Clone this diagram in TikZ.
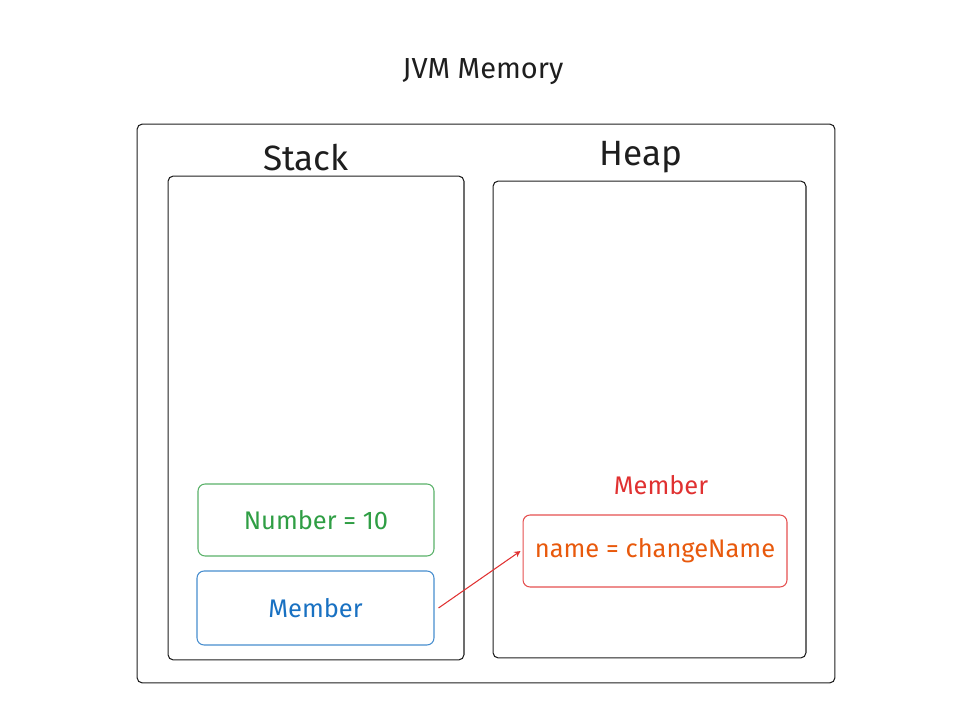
\documentclass[tikz,border=0pt]{standalone}
\usepackage{fontspec}
\setmainfont{Fira Sans}
\usepackage{tikz}

\definecolor{exgreen}{HTML}{2F9E44}
\definecolor{exblue}{HTML}{1971C2}
\definecolor{exred}{HTML}{E03131}
\definecolor{exorange}{HTML}{E8590C}
\definecolor{exdark}{HTML}{1E1E1E}

\begin{document}
\begin{tikzpicture}[
    x=0.02cm, y=-0.02cm,
    frame/.style={
        rectangle,
        draw=exdark,
        line width=0.6pt,
        rounded corners=3pt,
        inner sep=0pt
    },
    cell/.style={
        rectangle,
        line width=0.6pt,
        rounded corners=4pt,
        text centered,
        font=\fontsize{14.5}{17}\selectfont,
        inner sep=0pt
    },
    heading/.style={
        font=\fontsize{20}{24}\selectfont,
        text=exdark
    },
    arrow/.style={
        ->,
        line width=0.6pt,
        >=stealth,
        color=exred
    }
]
\useasboundingbox (0,0) rectangle (978,710);

% Title
\node[font=\fontsize{16.5}{20}\selectfont, text=exdark] (title) at (483,72) {JVM Memory};

% JVM frame
\node[frame, minimum width=13.96cm, minimum height=11.18cm] (jvm) at (486,403.5) {};

% Stack
\node[heading] (stackTitle) at (306,158) {Stack};
\node[frame, minimum width=5.92cm, minimum height=9.68cm] (stack) at (316,418) {};

% Heap
\node[heading] (heapTitle) at (641,157) {Heap};
\node[frame, minimum width=6.26cm, minimum height=9.54cm] (heap) at (649.5,419.5) {};

% Stack entries
\node[cell, draw=exgreen!80, text=exgreen, minimum width=4.72cm, minimum height=1.44cm] (number) at (316,520) {Number = 10};
\node[cell, draw=exblue!80, text=exblue, minimum width=4.74cm, minimum height=1.48cm] (memberRef) at (315.5,608) {Member};

% Heap object
\node[cell, text=exred] (objTitle) at (661,485) {Member};
\node[cell, draw=exred!85, text=exorange, minimum width=5.28cm, minimum height=1.44cm] (objName) at (655,551) {name = changeName};

% Reference
\draw[arrow] ([xshift=0.08cm]memberRef.east) -- ([xshift=-0.04cm]objName.west);

\end{tikzpicture}
\end{document}
